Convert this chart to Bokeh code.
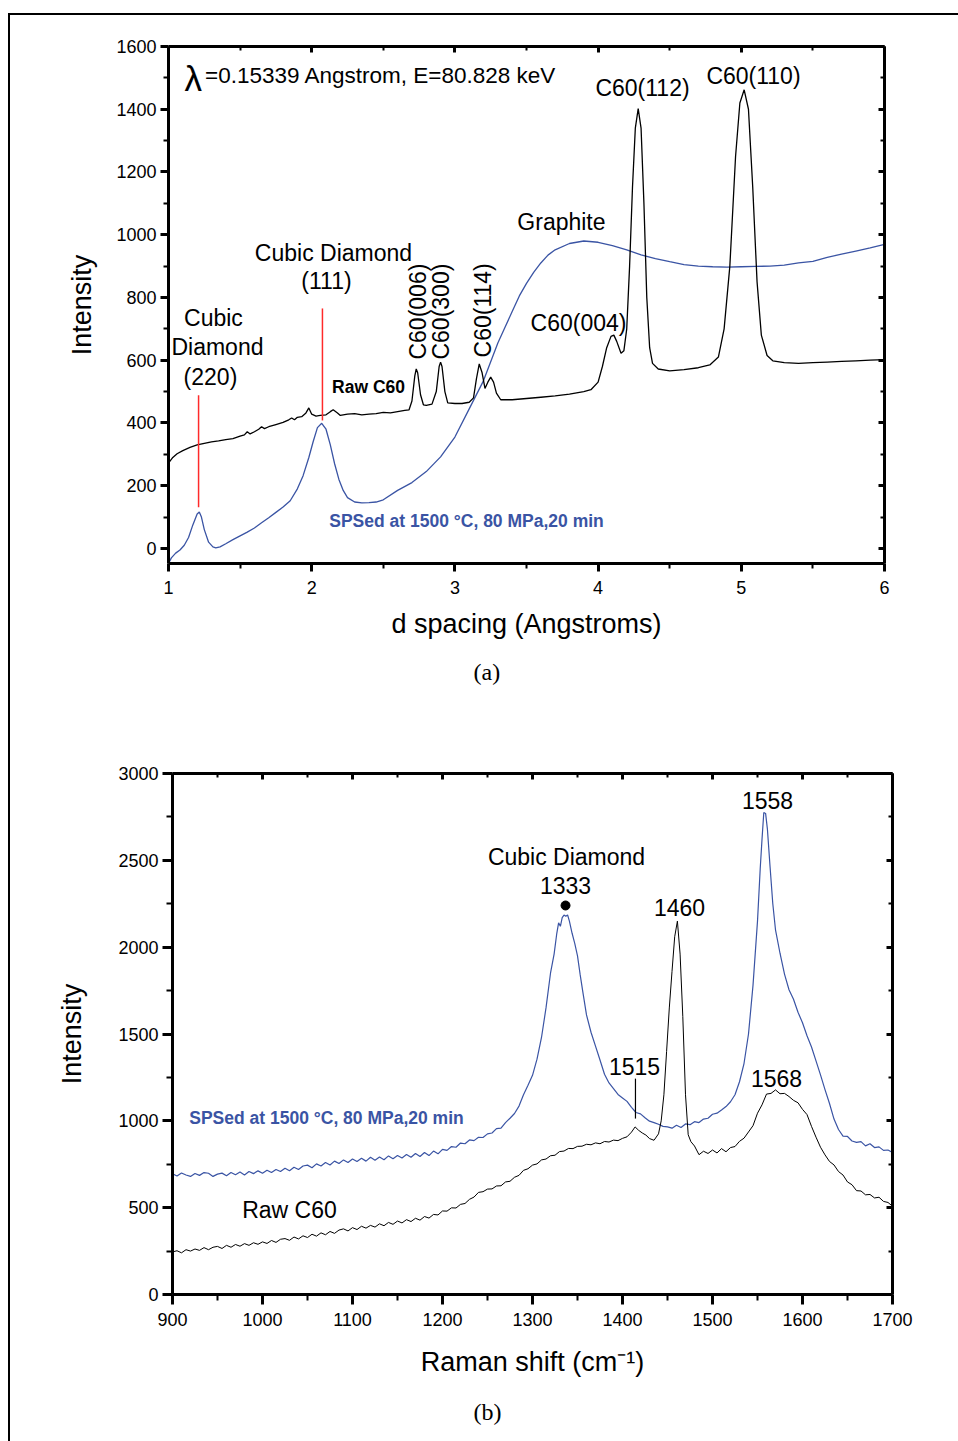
from bokeh.plotting import figure
from bokeh.models import LinearAxis, Title, Range1d, FixedTicker
from bokeh.layouts import column
from bokeh.core.properties import value
from bokeh.embed import file_html
from bokeh.resources import INLINE

FONT = "Liberation Sans"
SERIF = "Liberation Serif"
BLUE = "#3a54a4"
RED = "#ff2a2a"

# ---------------- Panel (a): X-ray diffraction ----------------
a_raw_x = [1.00, 1.03, 1.06, 1.10, 1.15, 1.20, 1.25, 1.30, 1.35, 1.40, 1.45, 1.50, 1.53, 1.55,
           1.57, 1.60, 1.63, 1.65, 1.67, 1.70, 1.75, 1.80, 1.84, 1.86, 1.88, 1.90, 1.93, 1.96,
           1.98, 2.00, 2.03, 2.06, 2.10, 2.13, 2.15, 2.18, 2.20, 2.25, 2.30, 2.35, 2.40, 2.45,
           2.50, 2.55, 2.60, 2.65, 2.68, 2.70, 2.72, 2.73, 2.74, 2.76, 2.78, 2.80, 2.84, 2.87,
           2.89, 2.90, 2.91, 2.93, 2.95, 3.00, 3.05, 3.10, 3.13, 3.15, 3.17, 3.19, 3.21, 3.23,
           3.25, 3.27, 3.29, 3.32, 3.40, 3.50, 3.60, 3.70, 3.80, 3.90, 3.95, 4.00, 4.03, 4.06,
           4.09, 4.11, 4.13, 4.16, 4.18, 4.20, 4.22, 4.24, 4.26, 4.28, 4.30, 4.32, 4.34, 4.36,
           4.38, 4.42, 4.50, 4.60, 4.70, 4.78, 4.84, 4.88, 4.92, 4.96, 4.99, 5.02, 5.05, 5.08,
           5.11, 5.14, 5.18, 5.22, 5.30, 5.40, 5.50, 5.60, 5.70, 5.80, 5.90, 6.00]
a_raw_y = [272, 290, 302, 312, 322, 330, 335, 340, 343, 347, 350, 358, 362, 372,
           365, 372, 380, 388, 382, 388, 395, 402, 410, 416, 410, 418, 420, 432,
           448, 428, 422, 424, 426, 436, 442, 432, 424, 428, 430, 426, 428, 430,
           434, 432, 436, 440, 442, 470, 550, 572, 560, 490, 458, 456, 460, 500,
           580, 594, 580, 500, 464, 462, 462, 466, 480, 540, 588, 560, 510, 530,
           546, 530, 495, 474, 474, 478, 482, 486, 492, 500, 506, 530, 580, 640,
           676, 680, 660, 622, 630, 700, 900, 1150, 1340, 1402, 1340, 1100, 800, 640,
           590, 572, 566, 570, 576, 585, 610, 700, 900, 1250, 1420, 1462, 1400, 1150,
           850, 680, 615, 598, 592, 590, 592, 594, 596, 598, 600, 602]

a_sps_x = [1.00, 1.02, 1.05, 1.08, 1.11, 1.14, 1.17, 1.20, 1.215, 1.23, 1.25, 1.28, 1.31, 1.33,
           1.36, 1.40, 1.45, 1.50, 1.55, 1.60, 1.65, 1.70, 1.75, 1.80, 1.85, 1.90, 1.94, 1.98,
           2.01, 2.04, 2.07, 2.10, 2.13, 2.16, 2.19, 2.22, 2.25, 2.30, 2.35, 2.40, 2.45, 2.50,
           2.60, 2.70, 2.80, 2.90, 3.00, 3.10, 3.20, 3.30, 3.35, 3.40, 3.45, 3.50, 3.55, 3.60,
           3.65, 3.70, 3.80, 3.90, 4.00, 4.10, 4.20, 4.30, 4.40, 4.50, 4.60, 4.70, 4.80, 4.90,
           5.00, 5.10, 5.20, 5.30, 5.40, 5.50, 5.60, 5.70, 5.80, 5.90, 6.00]
a_sps_y = [-48, -30, -15, -5, 10, 35, 75, 110, 116, 100, 60, 20, 5, 2,
           5, 15, 28, 40, 52, 65, 82, 98, 115, 132, 152, 190, 232, 290,
           340, 385, 399, 380, 330, 270, 220, 185, 162, 148, 145, 146, 148, 155,
           185, 210, 245, 292, 355, 445, 535, 655, 705, 755, 805, 845, 880, 910,
           935, 952, 972, 980, 976, 965, 952, 936, 924, 914, 905, 900, 898, 897,
           898, 899, 900, 903, 910, 915, 928, 938, 948, 958, 969]

a_marker_x = [1.21, 2.075]
a_marker_y0 = [131, 408]
a_marker_y1 = [488, 765]

a_x_ticks = [1, 2, 3, 4, 5, 6]
a_x_minor = [1.5, 2.5, 3.5, 4.5, 5.5]
a_y_ticks = [0, 200, 400, 600, 800, 1000, 1200, 1400, 1600]
a_y_minor = [100, 300, 500, 700, 900, 1100, 1300, 1500]

# ---------------- Panel (b): Raman ----------------
b_sps_x = [900, 905, 910, 915, 920, 925, 930, 935, 940, 945, 950, 955, 960, 965, 970, 975, 980,
           985, 990, 995, 1000, 1005, 1010, 1015, 1020, 1025, 1030, 1035, 1040, 1045, 1050,
           1055, 1060, 1065, 1070, 1075, 1080, 1085, 1090, 1095, 1100, 1105, 1110, 1115, 1120,
           1125, 1130, 1135, 1140, 1145, 1150, 1155, 1160, 1165, 1170, 1175, 1180, 1185, 1190,
           1195, 1200, 1205, 1210, 1215, 1220, 1225, 1230, 1235, 1240, 1245, 1250, 1255, 1260,
           1265, 1270, 1275, 1280, 1285, 1290, 1295, 1300, 1305, 1310, 1315, 1320, 1324, 1327,
           1329, 1331, 1333, 1335, 1337, 1339, 1341, 1344, 1347, 1350, 1353, 1356, 1360, 1365,
           1370, 1375, 1380, 1385, 1390, 1395, 1400, 1405, 1410, 1415, 1420, 1425, 1430, 1435,
           1440, 1445, 1450, 1455, 1460, 1465, 1470, 1475, 1480, 1485, 1490, 1495, 1500, 1505,
           1510, 1515, 1520, 1525, 1530, 1535, 1540, 1545, 1550, 1553, 1555, 1557, 1559, 1561,
           1564, 1567, 1570, 1575, 1580, 1585, 1590, 1595, 1600, 1605, 1610, 1615, 1620, 1625,
           1630, 1635, 1640, 1645, 1650, 1655, 1660, 1665, 1670, 1675, 1680, 1685, 1690, 1695,
           1700]
b_sps_y = [695, 682, 700, 688, 680, 697, 686, 702, 698, 680, 693, 699, 684, 703, 690, 705, 688,
           708, 696, 712, 698, 716, 702, 720, 708, 727, 713, 733, 720, 740, 745,
           730, 752, 740, 760, 746, 768, 754, 775, 760, 780, 766, 784, 768, 790,
           773, 792, 776, 798, 782, 800, 786, 806, 790, 812, 795, 818, 800, 826,
           810, 836, 830, 852, 848, 872, 868, 890, 886, 905, 904, 925, 930, 955,
           958, 990, 1015, 1042, 1085, 1150, 1205, 1262, 1355, 1480, 1650, 1850, 1960, 2080,
           2140, 2120, 2170, 2185, 2178, 2185, 2150, 2080, 2020, 1950, 1840, 1740, 1610, 1510,
           1430, 1350, 1268, 1218, 1185, 1152, 1132, 1112, 1078, 1048, 1040, 1018, 998, 990,
           980, 968, 965, 958, 975, 962, 982, 978, 995, 990, 1010, 1015, 1038, 1044,
           1062, 1082, 1110, 1150, 1225, 1330, 1500, 1780, 2150, 2450, 2620, 2775, 2770, 2680,
           2460, 2250, 2100, 1965, 1845, 1755, 1700, 1625, 1565, 1490, 1425, 1345, 1265, 1180,
           1100, 1010, 950, 912, 910, 884, 876, 880, 856, 868, 846, 850, 830, 832,
           818]

b_raw_x = [900, 905, 910, 915, 920, 925, 930, 935, 940, 945, 950, 955, 960, 965, 970, 975, 980,
           985, 990, 995, 1000, 1005, 1010, 1015, 1020, 1025, 1030, 1035, 1040, 1045, 1050,
           1055, 1060, 1065, 1070, 1075, 1080, 1085, 1090, 1095, 1100, 1105, 1110, 1115, 1120,
           1125, 1130, 1135, 1140, 1145, 1150, 1155, 1160, 1165, 1170, 1175, 1180, 1185, 1190,
           1195, 1200, 1205, 1210, 1215, 1220, 1225, 1230, 1235, 1240, 1245, 1250, 1255, 1260,
           1265, 1270, 1275, 1280, 1285, 1290, 1295, 1300, 1305, 1310, 1315, 1320, 1325, 1330,
           1335, 1340, 1345, 1350, 1355, 1360, 1365, 1370, 1375, 1380, 1385, 1390, 1395, 1400,
           1405, 1410, 1414, 1418, 1422, 1426, 1430, 1435, 1440, 1443, 1446, 1449, 1452, 1455,
           1458, 1461, 1464, 1467, 1470, 1473, 1476, 1480, 1485, 1490, 1495, 1500, 1505, 1510,
           1515, 1520, 1525, 1530, 1535, 1540, 1545, 1550, 1555, 1560, 1565, 1570, 1575, 1580,
           1585, 1590, 1595, 1600, 1605, 1610, 1615, 1620, 1625, 1630, 1635, 1640, 1645, 1650,
           1655, 1660, 1665, 1670, 1675, 1680, 1685, 1690, 1695, 1700]
b_raw_y = [245, 252, 240, 258, 250, 262, 254, 270, 258, 272, 277, 265, 283, 272, 288, 278, 293,
           283, 298, 289, 303, 294, 311, 300, 318, 322, 312, 331, 320, 338, 328,
           347, 336, 355, 344, 363, 352, 371, 378, 366, 385, 374, 393, 382, 398,
           388, 407, 396, 415, 404, 423, 412, 431, 420, 439, 428, 449, 440, 461,
           458, 481, 480, 499, 498, 519, 524, 548, 561, 588, 592, 607, 608, 625,
           626, 648, 652, 675, 686, 715, 724, 745, 752, 775, 780, 799, 802, 823,
           826, 841, 840, 853, 854, 865, 862, 873, 868, 881, 878, 889, 886, 899,
           908, 935, 965, 945, 930, 918, 898, 888, 925, 1000, 1150, 1400, 1650, 1860,
           2060, 2150, 1960, 1600, 1150, 920, 880, 855, 805, 825, 812, 832, 815, 840,
           822, 846, 852, 882, 900, 936, 972, 1044, 1092, 1154, 1158, 1178, 1156, 1158,
           1140, 1118, 1104, 1066, 1036, 968, 906, 848, 804, 766, 746, 708, 688, 648,
           632, 598, 596, 574, 576, 556, 560, 536, 530, 508]

b_x_ticks = [900, 1000, 1100, 1200, 1300, 1400, 1500, 1600, 1700]
b_x_minor = [950, 1050, 1150, 1250, 1350, 1450, 1550, 1650]
b_y_ticks = [0, 500, 1000, 1500, 2000, 2500, 3000]
b_y_minor = [250, 750, 1250, 1750, 2250, 2750]


def add_frame_axes(p, xt, xm, yt, ym, tick_out, minor_out, xlabel, ylabel, label_size,
                   x_lab_std, x_std, y_std):
    common = dict(axis_line_width=3, axis_line_color="black",
                  major_tick_line_width=3, minor_tick_line_width=2,
                  major_tick_line_color="black", minor_tick_line_color="black",
                  major_label_text_font=FONT, major_label_text_font_size="18px",
                  major_label_text_color="black",
                  axis_label_text_font=FONT, axis_label_text_font_size=label_size,
                  axis_label_text_font_style="normal", axis_label_text_color="black")
    bottom = LinearAxis(ticker=FixedTicker(ticks=xt, minor_ticks=xm), axis_label=xlabel,
                        major_tick_in=0, major_tick_out=tick_out, minor_tick_in=0,
                        minor_tick_out=minor_out, major_label_standoff=x_lab_std,
                        axis_label_standoff=x_std, **common)
    left = LinearAxis(ticker=FixedTicker(ticks=yt, minor_ticks=ym), axis_label=ylabel,
                      major_tick_in=0, major_tick_out=tick_out, minor_tick_in=0,
                      minor_tick_out=minor_out, major_label_standoff=4,
                      axis_label_standoff=y_std, **common)
    top = LinearAxis(ticker=FixedTicker(ticks=xt, minor_ticks=xm),
                     major_tick_in=6, major_tick_out=0, minor_tick_in=4, minor_tick_out=0,
                     **common)
    right = LinearAxis(ticker=FixedTicker(ticks=yt, minor_ticks=ym),
                       major_tick_in=6, major_tick_out=0, minor_tick_in=4, minor_tick_out=0,
                       **common)
    for ax in (top, right):
        ax.major_label_text_font_size = "0px"
        ax.major_label_text_alpha = 0
    p.add_layout(bottom, "below")
    p.add_layout(left, "left")
    p.add_layout(top, "above")
    p.add_layout(right, "right")


# ---------------- figure (a) ----------------
pa = figure(width=940, height=715, x_range=Range1d(1, 6), y_range=Range1d(-48, 1600),
            output_backend="svg", toolbar_location=None,
            x_axis_location=None, y_axis_location=None,
            min_border_left=158, min_border_right=66, min_border_top=31,
            min_border_bottom=167, outline_line_color=None)
pa.xgrid.visible = False
pa.ygrid.visible = False
add_frame_axes(pa, a_x_ticks, a_x_minor, a_y_ticks, a_y_minor, 8, 5,
               "d spacing (Angstroms)", "Intensity", "27px", 9, 12, 16)
pa.add_layout(Title(text="(a)", align="left", offset=305, standoff=30, text_font=SERIF,
                    text_font_size="24px", text_font_style="normal", text_color="black"),
              "below")

pa.line(a_sps_x, a_sps_y, line_color=BLUE, line_width=1.3)
pa.line(a_raw_x, a_raw_y, line_color="black", line_width=1.3)
pa.segment(x0=a_marker_x, y0=a_marker_y0, x1=a_marker_x, y1=a_marker_y1,
           line_color=RED, line_width=1.5)

a_txt_x = [4.310, 5.085, 3.744, 3.863, 2.152, 2.103, 1.314, 1.342, 1.293]
a_txt_y = [1469, 1507, 1039, 720, 943, 851, 733, 641, 548]
a_txt = ["C60(112)", "C60(110)", "Graphite", "C60(004)", "Cubic Diamond", "(111)",
         "Cubic", "Diamond", "(220)"]
pa.text(x=a_txt_x, y=a_txt_y, text=a_txt, text_font=value(FONT),
        text_font_size="23px", text_align="center", text_baseline="middle",
        text_color="black")
pa.text(x=[1.112], y=[1497], text=["λ"], text_font=value(FONT),
        text_font_size="35px", text_align="left", text_baseline="middle", text_color="black")
pa.text(x=[1.255], y=[1507], text=["=0.15339 Angstrom, E=80.828 keV"], text_font=value(FONT),
        text_font_size="22.5px", text_align="left", text_baseline="middle", text_color="black")
pa.text(x=[2.739, 2.906, 3.193], y=[755, 755, 759], text=["C60(006)", "C60(300)", "C60(114)"],
        angle=1.5707963, text_font=value(FONT), text_font_size="23px", text_align="center",
        text_baseline="middle", text_color="black")
pa.text(x=[2.397], y=[516], text=["Raw C60"], text_font=value(FONT), text_font_size="17.5px",
        text_font_style="bold", text_align="center", text_baseline="middle", text_color="black")
pa.text(x=[3.081], y=[86], text=["SPSed at 1500 °C, 80 MPa,20 min"], text_font=value(FONT),
        text_font_size="17.5px", text_font_style="bold", text_align="center",
        text_baseline="middle", text_color=BLUE)

# ---------------- figure (b) ----------------
pb = figure(width=944, height=711, x_range=Range1d(900, 1700), y_range=Range1d(0, 3000),
            output_backend="svg", toolbar_location=None,
            x_axis_location=None, y_axis_location=None,
            min_border_left=158, min_border_right=66, min_border_top=43,
            min_border_bottom=147, outline_line_color=None, margin=(0, 0, 0, 4))
pb.xgrid.visible = False
pb.ygrid.visible = False
add_frame_axes(pb, b_x_ticks, b_x_minor, b_y_ticks, b_y_minor, 10, 6,
               "Raman shift (cm⁻¹)", "Intensity", "27px", 8, 18, 28)
pb.add_layout(Title(text="(b)", align="left", offset=301, standoff=34, text_font=SERIF,
                    text_font_size="24px", text_font_style="normal", text_color="black"),
              "below")

pb.line(b_sps_x, b_sps_y, line_color=BLUE, line_width=1.2)
pb.line(b_raw_x, b_raw_y, line_color="black", line_width=1.0)
pb.segment(x0=[1414.4], y0=[1013], x1=[1414.4], y1=[1243], line_color="black", line_width=1.2)
pb.scatter(x=[1336.7], y=[2240], size=9, marker="circle", fill_color="black",
           line_color="black")

b_txt_x = [1337.8, 1336.7, 1463.3, 1561.1, 1413.3, 1571.1, 1030]
b_txt_y = [2522, 2355, 2228, 2844, 1313, 1244, 484]
b_txt = ["Cubic Diamond", "1333", "1460", "1558", "1515", "1568", "Raw C60"]
pb.text(x=b_txt_x, y=b_txt_y, text=b_txt, text_font=value(FONT), text_font_size="23px",
        text_align="center", text_baseline="middle", text_color="black")
pb.text(x=[1071.1], y=[1019], text=["SPSed at 1500 °C, 80 MPa,20 min"], text_font=value(FONT),
        text_font_size="17.5px", text_font_style="bold", text_align="center",
        text_baseline="middle", text_color=BLUE)

layout = column(pa, pb, styles={"border-left": "2px solid black",
                                "border-top": "2px solid black",
                                "margin-left": "8px",
                                "margin-top": "13px"})

open("out.html", "w").write(file_html(layout, INLINE))
